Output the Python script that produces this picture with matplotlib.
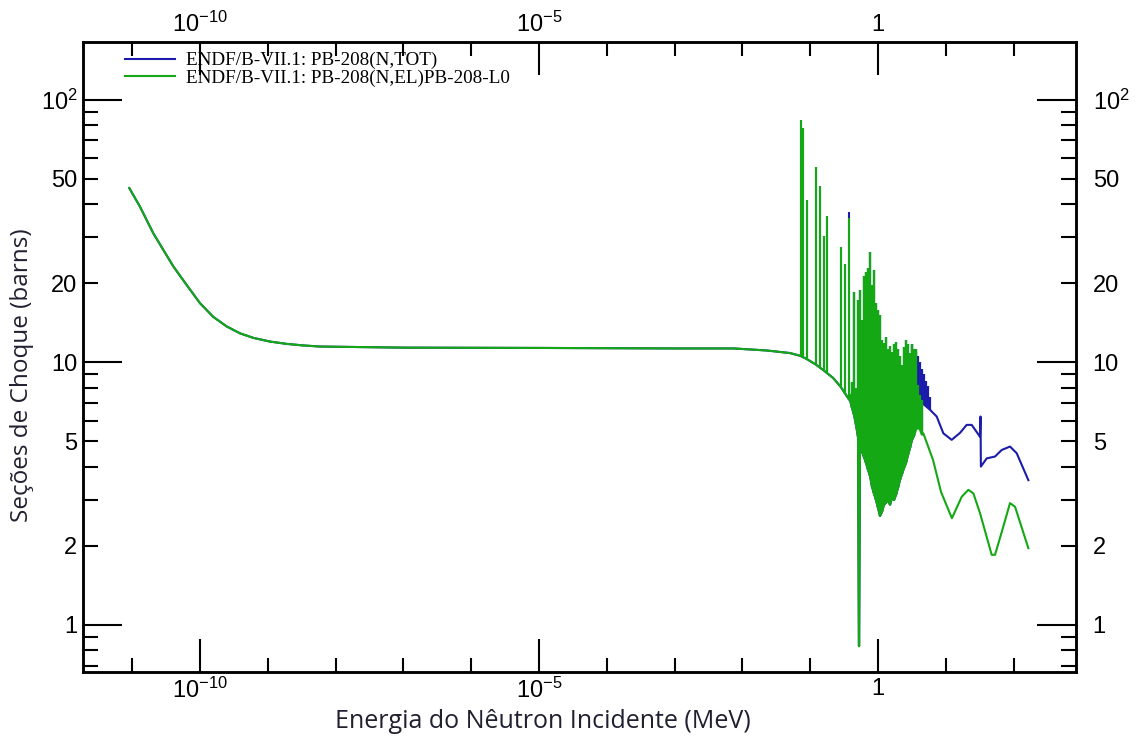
import numpy as np
import matplotlib.pyplot as plt

plt.rcParams['font.family'] = 'Liberation Sans'
plt.rcParams['mathtext.fontset'] = 'custom'
plt.rcParams['mathtext.rm'] = 'Liberation Sans'
plt.rcParams['mathtext.it'] = 'Liberation Sans:italic'
plt.rcParams['mathtext.bf'] = 'Liberation Sans:bold'

# parte comum (baixa energia), MeV / barns
energia_comum = np.array([9.06e-12, 1.30e-11, 2.05e-11, 2.88e-11, 4.04e-11, 6.37e-11, 1.0e-10,
                          1.57e-10, 2.48e-10, 3.89e-10, 6.1e-10, 1.08e-9, 1.9e-9, 3.34e-9,
                          5.9e-9, 1e-7, 1e-5, 1e-3, 7.4e-3, 0.0228, 0.0504, 0.0707, 0.0888,
                          0.1218, 0.1598, 0.217, 0.2818, 0.3773])
sigma_comum = np.array([46.1, 39.2, 31.0, 26.8, 23.2, 19.7, 16.8,
                        14.9, 13.7, 12.9, 12.4, 12.0, 11.76, 11.6,
                        11.49, 11.38, 11.35, 11.3, 11.3, 11.1, 10.85, 10.6, 10.3,
                        9.8, 9.3, 8.73, 8.07, 7.2])

# ressonancias isoladas
picos_E = np.array([0.0724, 0.0791, 0.0888, 0.1218, 0.1395, 0.1598, 0.1788, 0.2818, 0.326, 0.3773])
picos_base = np.array([10.6, 10.5, 10.3, 9.8, 9.6, 9.3, 9.1, 8.07, 7.6, 7.2])
picos_tot = np.array([83.9, 78.2, 41.6, 55.6, 47.0, 30.3, 36.1, 27.5, 23.7, 37.4])
picos_el = np.array([83.9, 78.2, 41.6, 55.6, 47.0, 30.3, 36.1, 27.5, 23.7, 35.5])

# regiao densa de ressonancias (envelope inferior / superior)
denso_E = np.array([0.3864, 0.4135, 0.4426, 0.4737, 0.507, 0.5246, 0.5427, 0.581, 0.622, 0.665,
                    0.712, 0.762, 0.816, 0.873, 0.934, 1.0, 1.070, 1.146, 1.226, 1.312,
                    1.404, 1.503, 1.609, 1.722, 1.843, 1.972, 2.111, 2.259, 2.418, 2.588,
                    2.770, 2.965, 3.173, 3.396, 3.635, 3.890, 4.164, 4.457])
denso_inf = np.array([7.2, 6.71, 6.31, 5.78, 5.20, 0.83, 4.85, 4.56, 4.36, 4.14,
                      3.90, 3.69, 3.36, 3.16, 2.99, 2.79, 2.60, 2.70, 2.87, 2.92,
                      2.99, 2.87, 3.05, 2.99, 3.13, 3.33, 3.57, 3.76, 3.96, 4.14,
                      4.44, 4.72, 5.07, 5.25, 5.53, 5.68, 5.53, 5.30])
denso_sup = np.array([7.6, 8.4, 18.6, 8.0, 17.3, 16.0, 18.9, 14.5, 21.4, 22.1,
                      22.9, 26.4, 19.7, 22.5, 16.9, 15.8, 15.2, 12.2, 11.9, 12.5,
                      11.2, 11.5, 11.0, 11.7, 12.0, 11.2, 10.6, 9.8, 11.4, 12.2,
                      11.7, 10.9, 11.7, 11.2, 11.2, 8.2, 7.5, 7.2])

# parte densa so do total
tot_denso_E = np.array([3.173, 3.396, 3.635, 3.890, 4.164, 4.457, 4.770, 5.105, 5.464, 5.848])
tot_denso_inf = np.array([5.07, 5.25, 6.6, 7.0, 7.1, 7.2, 6.9, 6.8, 6.7, 6.6])
tot_denso_sup = np.array([11.7, 11.2, 11.0, 10.6, 10.0, 9.4, 9.0, 8.5, 8.1, 7.4])

# caudas de alta energia
cauda_tot_E = np.array([7.34, 9.19, 12.2, 16.2, 20.3, 24.1, 31.9, 32.5, 32.9, 40.1, 53.2, 66.7, 88.5, 111, 165])
cauda_tot = np.array([6.22, 5.37, 5.07, 5.39, 5.78, 5.78, 5.21, 6.22, 4.01, 4.31, 4.38, 4.64, 4.78, 4.51, 3.56])
cauda_el_E = np.array([4.66, 6.48, 8.5, 12.3, 17.2, 21.5, 25.5, 31.9, 47.5, 53.2, 70.5, 88.5, 105, 165])
cauda_el = np.array([5.37, 4.25, 3.21, 2.55, 3.08, 3.27, 3.17, 2.67, 1.85, 1.85, 2.37, 2.91, 2.82, 1.96])

azul = '#1c1caa'
verde = '#14a814'

fig = plt.figure(figsize=(11.41, 7.38), dpi=100)
ax = fig.add_axes([83/1141, 1-672/738, 993/1141, 630/738])

m = denso_E < 3.0
E_tot = np.concatenate([energia_comum, denso_E[m], tot_denso_E, cauda_tot_E])
s_tot = np.concatenate([sigma_comum, denso_inf[m], tot_denso_inf, cauda_tot])
E_el = np.concatenate([energia_comum, denso_E, cauda_el_E])
s_el = np.concatenate([sigma_comum, denso_inf, cauda_el])

ax.plot(E_tot, s_tot, color=azul, lw=1.5, label='ENDF/B-VII.1: PB-208(N,TOT)')
ax.vlines(picos_E, picos_base, picos_tot, color=azul, lw=1.5)
ax.vlines(denso_E, denso_inf, denso_sup, color=azul, lw=1.6)
ax.vlines(tot_denso_E, tot_denso_inf, tot_denso_sup, color=azul, lw=1.6)

ax.plot(E_el, s_el, color=verde, lw=1.5, label='ENDF/B-VII.1: PB-208(N,EL)PB-208-L0')
ax.vlines(picos_E, picos_base, picos_el, color=verde, lw=1.5)
ax.vlines(denso_E, denso_inf, denso_sup, color=verde, lw=1.6)

ax.set_xscale('log')
ax.set_yscale('log')
ax.set_xlim(1.88e-12, 832)
ax.set_ylim(0.662, 166)

ax.set_xticks([1e-10, 1e-5, 1], [r'$10^{-10}$', r'$10^{-5}$', '1'])
ax.set_xticks([10.0**k for k in range(-11, 3)], [''] * 14, minor=True)

ymaj = [1, 10, 100]
ymaj_lbl = ['1', '10', r'$10^{2}$']
ymin = [0.7, 0.8, 0.9, 2, 3, 4, 5, 6, 7, 8, 9, 20, 30, 40, 50, 60, 70, 80, 90]
ymin_lbl = ['', '', '', '2', '', '', '5', '', '', '', '', '20', '', '', '50', '', '', '', '']
ax.set_yticks(ymaj, ymaj_lbl)
ax.set_yticks(ymin, ymin_lbl, minor=True)

ax.tick_params(which='both', direction='in', top=True, right=False, labeltop=True,
               width=1.5, labelsize=17, pad=4)
ax.tick_params(axis='x', which='major', length=24)
ax.tick_params(axis='x', which='minor', length=10)
ax.tick_params(axis='y', which='major', length=28)
ax.tick_params(axis='y', which='minor', length=11)

axr = ax.twinx()
axr.set_yscale('log')
axr.set_ylim(0.662, 166)
axr.set_yticks(ymaj, ymaj_lbl)
axr.set_yticks(ymin, ymin_lbl, minor=True)
axr.tick_params(which='both', direction='in', width=1.5, labelsize=17, pad=12)
axr.tick_params(which='major', length=28)
axr.tick_params(which='minor', length=11)

for a in (ax, axr):
    for s in a.spines.values():
        s.set_linewidth(1.8)

ax.legend(loc='upper left', bbox_to_anchor=(125/1141, 1-52/738), bbox_transform=fig.transFigure,
          frameon=False, borderpad=0, borderaxespad=0, labelspacing=0.0, handlelength=2.6,
          handletextpad=0.6, prop={'family': 'Liberation Serif', 'size': 13.8})

fig.text(543/1141, 1-722/738, 'Energia do Nêutron Incidente (MeV)', ha='center', va='center',
         family='Open Sans', fontsize=18, color='#202030')
fig.text(22/1141, 1-375/738, 'Seções de Choque (barns)', ha='center', va='center', rotation=90,
         family='Open Sans', fontsize=17.5, color='#202030')

fig.savefig('out.png', dpi=100)
